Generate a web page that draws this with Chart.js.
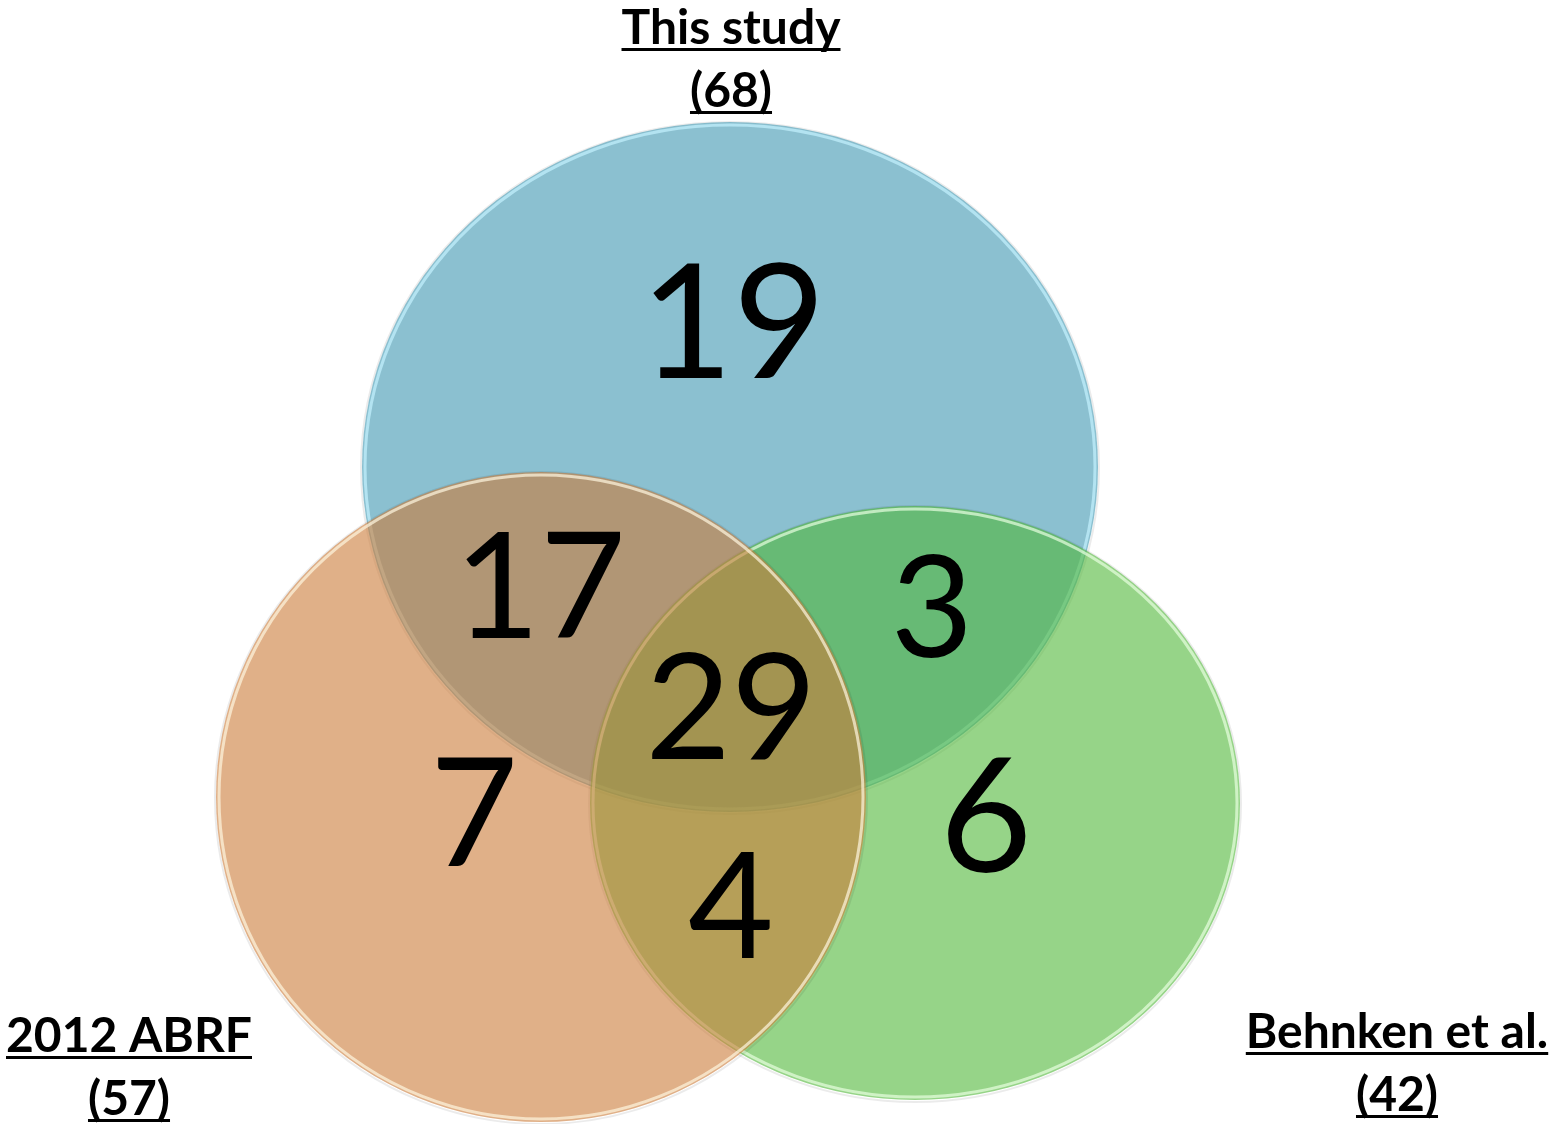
<!DOCTYPE html>
<html lang="en">
<head>
  <meta charset="UTF-8">
  <title>Venn diagram</title>
  <style>
    html, body { margin: 0; padding: 0; background: #fff; }
    .wrap { width: 1566px; height: 1124px; position: relative; }
  </style>
  <script src="https://cdn.jsdelivr.net/npm/chart.js"></script>
</head>
<body>
  <div class="wrap"><canvas id="venn"></canvas></div>
  <script>
    // Sets and their totals
    const setNames = ['This study', '2012 ABRF', 'Behnken et al.'];
    const setTotals = [68, 57, 42];
    // Region counts
    const regionNames = ['This study only', 'This study & 2012 ABRF', 'This study & Behnken',
      'All three', '2012 ABRF only', 'Behnken only', '2012 ABRF & Behnken'];
    const regionCounts = [19, 17, 3, 29, 7, 6, 4];

    // layout (axis units = pixels of the 1566x1124 frame)
    const circles = [
      { cx: 730, cy: 467, rx: 368, ry: 345, fill: 'rgba(90,165,188,0.7)', rim: '#c4f2ff' },
      { cx: 541, cy: 797, rx: 325, ry: 325, fill: 'rgba(203,123,57,0.6)', rim: '#fff6e0' },
      { cx: 915, cy: 803, rx: 325, ry: 297, fill: 'rgba(80,183,57,0.6)', rim: '#e8ffe0' }
    ];
    const drawOrder = [0, 2, 1];
    const regionPos = [[733, 326], [540, 590], [932, 611], [731, 711], [474, 817], [986, 820], [731, 910]];
    const regionSize = [160, 148, 142, 148, 152, 160, 148];
    const setLabelPos = [[731, 28, 90], [129, 1036, 1098], [1397, 1032, 1094]];

    const vennPlugin = {
      id: 'venn',
      beforeDatasetsDraw(chart) {
        const { ctx, scales: { x, y } } = chart;
        ctx.save();
        drawOrder.forEach(i => {
          const c = circles[i];
          const px = x.getPixelForValue(c.cx), py = y.getPixelForValue(c.cy);
          const rx = Math.abs(x.getPixelForValue(c.cx + c.rx) - px);
          const ry = Math.abs(y.getPixelForValue(c.cy + c.ry) - py);
          // faint outer edge
          ctx.beginPath();
          ctx.ellipse(px, py + 1, rx + 1, ry + 1, 0, 0, Math.PI * 2);
          ctx.strokeStyle = 'rgba(0,0,0,0.08)';
          ctx.lineWidth = 2;
          ctx.stroke();
          ctx.beginPath();
          ctx.ellipse(px, py, rx, ry, 0, 0, Math.PI * 2);
          ctx.fillStyle = c.fill;
          ctx.fill();
          // glossy rim
          ctx.beginPath();
          ctx.ellipse(px, py, rx - 3, ry - 3, 0, 0, Math.PI * 2);
          ctx.strokeStyle = c.rim;
          ctx.globalAlpha = 0.7;
          ctx.lineWidth = 3;
          ctx.stroke();
          ctx.globalAlpha = 1;
        });
        ctx.restore();
      },
      afterDatasetsDraw(chart) {
        const { ctx, scales: { x, y } } = chart;
        ctx.save();
        ctx.fillStyle = '#000';
        ctx.textAlign = 'center';
        ctx.textBaseline = 'middle';
        regionCounts.forEach((v, i) => {
          ctx.font = regionSize[i] + 'px Lato, "Open Sans", sans-serif';
          ctx.fillText(String(v), x.getPixelForValue(regionPos[i][0]), y.getPixelForValue(regionPos[i][1]));
        });
        // set labels, bold and underlined
        ctx.font = 'bold 48px Lato, "Open Sans", sans-serif';
        ctx.textBaseline = 'alphabetic';
        setNames.forEach((name, i) => {
          const [lx, ly1, ly2] = setLabelPos[i];
          const cx = x.getPixelForValue(lx);
          const lines = [[name, y.getPixelForValue(ly1) + 16], ['(' + setTotals[i] + ')', y.getPixelForValue(ly2) + 17]];
          lines.forEach(([t, by]) => {
            ctx.fillText(t, cx, by);
            const w = ctx.measureText(t).width;
            ctx.fillRect(cx - w / 2, by + 4, w, 3);
          });
        });
        ctx.restore();
      }
    };

    new Chart(document.getElementById('venn'), {
      type: 'scatter',
      data: {
        datasets: [{
          label: 'Sets',
          data: circles.map(c => ({ x: c.cx, y: c.cy })),
          pointRadius: 0,
          pointHoverRadius: 0
        }]
      },
      options: {
        responsive: true,
        maintainAspectRatio: false,
        animation: false,
        layout: { padding: 0 },
        plugins: { legend: { display: false }, tooltip: { enabled: false } },
        scales: {
          x: { type: 'linear', min: 0, max: 1566, display: false },
          y: { type: 'linear', min: 0, max: 1124, reverse: true, display: false }
        }
      },
      plugins: [vennPlugin]
    });
  </script>
</body>
</html>
